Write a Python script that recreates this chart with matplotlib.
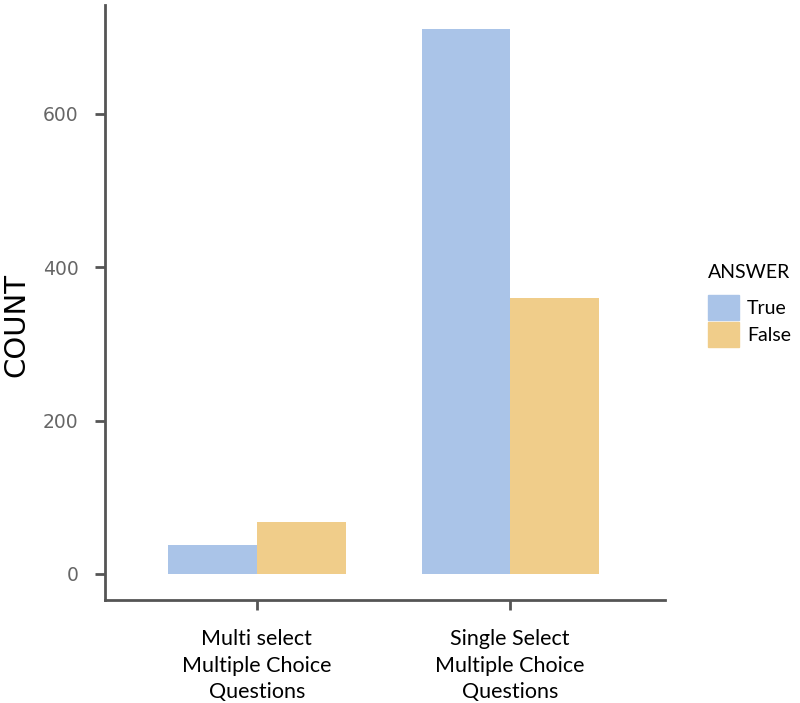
import numpy as np
import matplotlib.pyplot as plt
from matplotlib.patches import Patch

categories = ['Multi select\nMultiple Choice\nQuestions',
              'Single Select\nMultiple Choice\nQuestions']
answers = ['True', 'False']
true_counts = [38, 710]
false_counts = [68, 360]
colors = ['#AAC4E8', '#F0CD8A']

fig = plt.figure(figsize=(8, 7.03), dpi=100)
ax = fig.add_axes([0.131, 0.1465, 0.70, 0.8465])

x = np.arange(len(categories))
w = 0.35
ax.bar(x - w / 2, true_counts, width=w, color=colors[0])
ax.bar(x + w / 2, false_counts, width=w, color=colors[1])

ax.set_xlim(-0.6, 1.61)
ax.set_ylim(-34, 742)
ax.set_yticks([0, 200, 400, 600])
ax.set_yticklabels(['0', '200', '400', '600'], family='DejaVu Sans')
ax.set_xticks(x)
ax.set_xticklabels(categories, fontsize=15.5, family='Lato', linespacing=1.4)
fig.text(0.02, 0.537, 'COUNT', rotation=90, fontsize=21, ha='center', va='center')

for s in ['top', 'right']:
    ax.spines[s].set_visible(False)
for s in ['left', 'bottom']:
    ax.spines[s].set_color('#555555')
    ax.spines[s].set_linewidth(2)
ax.tick_params(axis='y', length=7, width=2, color='#555555', labelcolor='#666666',
               labelsize=13.5, pad=12)
ax.tick_params(axis='x', length=7, width=2, color='#555555', pad=14)

handles = [Patch(color=c) for c in colors]
leg = fig.legend(handles, answers, title='ANSWER', loc='center left',
                 bbox_to_anchor=(0.885, 0.565), frameon=False,
                 prop={'family': 'Lato', 'size': 14},
                 title_fontproperties={'family': 'Lato', 'size': 14},
                 handlelength=1.6, handleheight=1.6,
                 handletextpad=0.4, labelspacing=0.1, alignment='left',
                 borderpad=0.0, borderaxespad=0.0)
leg._legend_box.sep = 10

fig.savefig('out.png', dpi=100)
